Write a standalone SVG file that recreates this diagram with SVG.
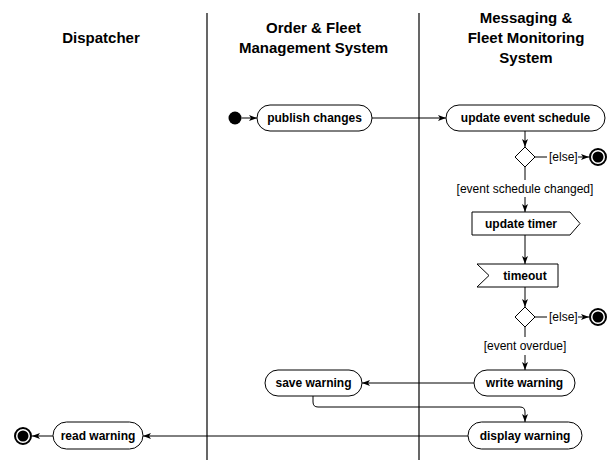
<svg xmlns="http://www.w3.org/2000/svg" width="615" height="460" viewBox="0 0 615 460">
  <style>
    .lane { stroke: #000; stroke-width: 1.2; }
    .head { font-family: "Liberation Sans", Arial, sans-serif; font-weight: bold; font-size: 15px; text-anchor: middle; fill: #000; }
    .act { fill: #fff; stroke: #000; stroke-width: 1; }
    .lbl { font-family: "Liberation Sans", Arial, sans-serif; font-weight: bold; font-size: 12px; text-anchor: middle; fill: #000; }
    .guard { font-family: "Liberation Sans", Arial, sans-serif; font-size: 12px; fill: #000; }
    .edge { fill: none; stroke: #000; stroke-width: 1; }
    .arrow { marker-end: url(#head); }
  </style>
  <defs>
    <marker id="head" viewBox="0 0 8 6" refX="8" refY="3" markerWidth="8" markerHeight="6" markerUnits="userSpaceOnUse" orient="auto">
      <path d="M0,0 L8,3 L0,6 L2,3 z" fill="#000"/>
    </marker>
  </defs>

  <rect width="615" height="460" fill="#fff"/>

  <!-- swimlanes -->
  <g id="lanes">
    <line class="lane" x1="207" y1="13" x2="207" y2="460"/>
    <line class="lane" x1="419" y1="13" x2="419" y2="460"/>
    <text class="head" x="101" y="43">Dispatcher</text>
    <text class="head" x="313.5" y="33">Order &amp; Fleet</text>
    <text class="head" x="313.5" y="53">Management System</text>
    <text class="head" x="526" y="23">Messaging &amp;</text>
    <text class="head" x="526" y="43">Fleet Monitoring</text>
    <text class="head" x="526" y="63">System</text>
  </g>

  <!-- connectors -->
  <g id="connectors">
    <line class="edge arrow" x1="241.5" y1="118" x2="257" y2="118"/>
    <line class="edge arrow" x1="372" y1="118" x2="446" y2="118"/>
    <line class="edge arrow" x1="525" y1="131" x2="525" y2="147"/>
    <line class="edge" x1="535" y1="157" x2="547" y2="157"/>
    <line class="edge arrow" x1="578" y1="157" x2="589" y2="157"/>
    <line class="edge" x1="525" y1="167" x2="525" y2="180"/>
    <line class="edge arrow" x1="525" y1="197" x2="525" y2="212"/>
    <line class="edge arrow" x1="525" y1="235" x2="525" y2="264"/>
    <line class="edge arrow" x1="525" y1="287" x2="525" y2="307"/>
    <line class="edge" x1="535" y1="317" x2="547" y2="317"/>
    <line class="edge arrow" x1="578" y1="317" x2="589" y2="317"/>
    <line class="edge" x1="525" y1="327" x2="525" y2="337"/>
    <line class="edge arrow" x1="525" y1="355" x2="525" y2="370"/>
    <line class="edge arrow" x1="474" y1="383" x2="362" y2="383"/>
    <path class="edge arrow" d="M313,396 V402 Q313,407 318,407 H520 Q525,407 525,412 V422"/>
    <line class="edge arrow" x1="468" y1="436" x2="143" y2="436"/>
    <line class="edge arrow" x1="53" y1="436" x2="32" y2="436"/>
    <text class="guard" x="549" y="161">[else]</text>
    <text class="guard" x="525" y="193" text-anchor="middle">[event schedule changed]</text>
    <text class="guard" x="549" y="321">[else]</text>
    <text class="guard" x="525" y="350" text-anchor="middle">[event overdue]</text>
  </g>

  <!-- nodes -->
  <g id="start">
    <circle cx="235" cy="118" r="6.5" fill="#000"/>
  </g>
  <g id="publish-changes">
    <rect class="act" x="257" y="105" width="115" height="26" rx="13"/>
    <text class="lbl" x="314.5" y="122">publish changes</text>
  </g>
  <g id="update-event-schedule">
    <rect class="act" x="446" y="105" width="159" height="26" rx="13"/>
    <text class="lbl" x="525.5" y="122">update event schedule</text>
  </g>
  <g id="decision-schedule">
    <polygon class="act" points="525,147 535,157 525,167 515,157"/>
  </g>
  <g id="end-schedule">
    <circle cx="598" cy="157" r="8" fill="#fff" stroke="#000" stroke-width="2"/>
    <circle cx="598" cy="157" r="5.5" fill="#000"/>
  </g>
  <g id="update-timer">
    <polygon class="act" points="472,212 570,212 580,223.5 570,235 472,235"/>
    <text class="lbl" x="521" y="227.5">update timer</text>
  </g>
  <g id="timeout">
    <polygon class="act" points="477,264 558,264 558,287 477,287 489,275.5"/>
    <text class="lbl" x="525" y="279.5">timeout</text>
  </g>
  <g id="decision-overdue">
    <polygon class="act" points="525,307 535,317 525,327 515,317"/>
  </g>
  <g id="end-overdue">
    <circle cx="598" cy="317" r="8" fill="#fff" stroke="#000" stroke-width="2"/>
    <circle cx="598" cy="317" r="5.5" fill="#000"/>
  </g>
  <g id="write-warning">
    <rect class="act" x="474" y="370" width="101" height="26" rx="13"/>
    <text class="lbl" x="524.5" y="387">write warning</text>
  </g>
  <g id="save-warning">
    <rect class="act" x="265" y="370" width="97" height="26" rx="13"/>
    <text class="lbl" x="313.5" y="387">save warning</text>
  </g>
  <g id="display-warning">
    <rect class="act" x="468" y="422" width="114" height="27" rx="13.5"/>
    <text class="lbl" x="525" y="440">display warning</text>
  </g>
  <g id="read-warning">
    <rect class="act" x="53" y="422" width="90" height="27" rx="13.5"/>
    <text class="lbl" x="98" y="440">read warning</text>
  </g>
  <g id="end-read">
    <circle cx="23" cy="436" r="8" fill="#fff" stroke="#000" stroke-width="2"/>
    <circle cx="23" cy="436" r="5.5" fill="#000"/>
  </g>
</svg>
